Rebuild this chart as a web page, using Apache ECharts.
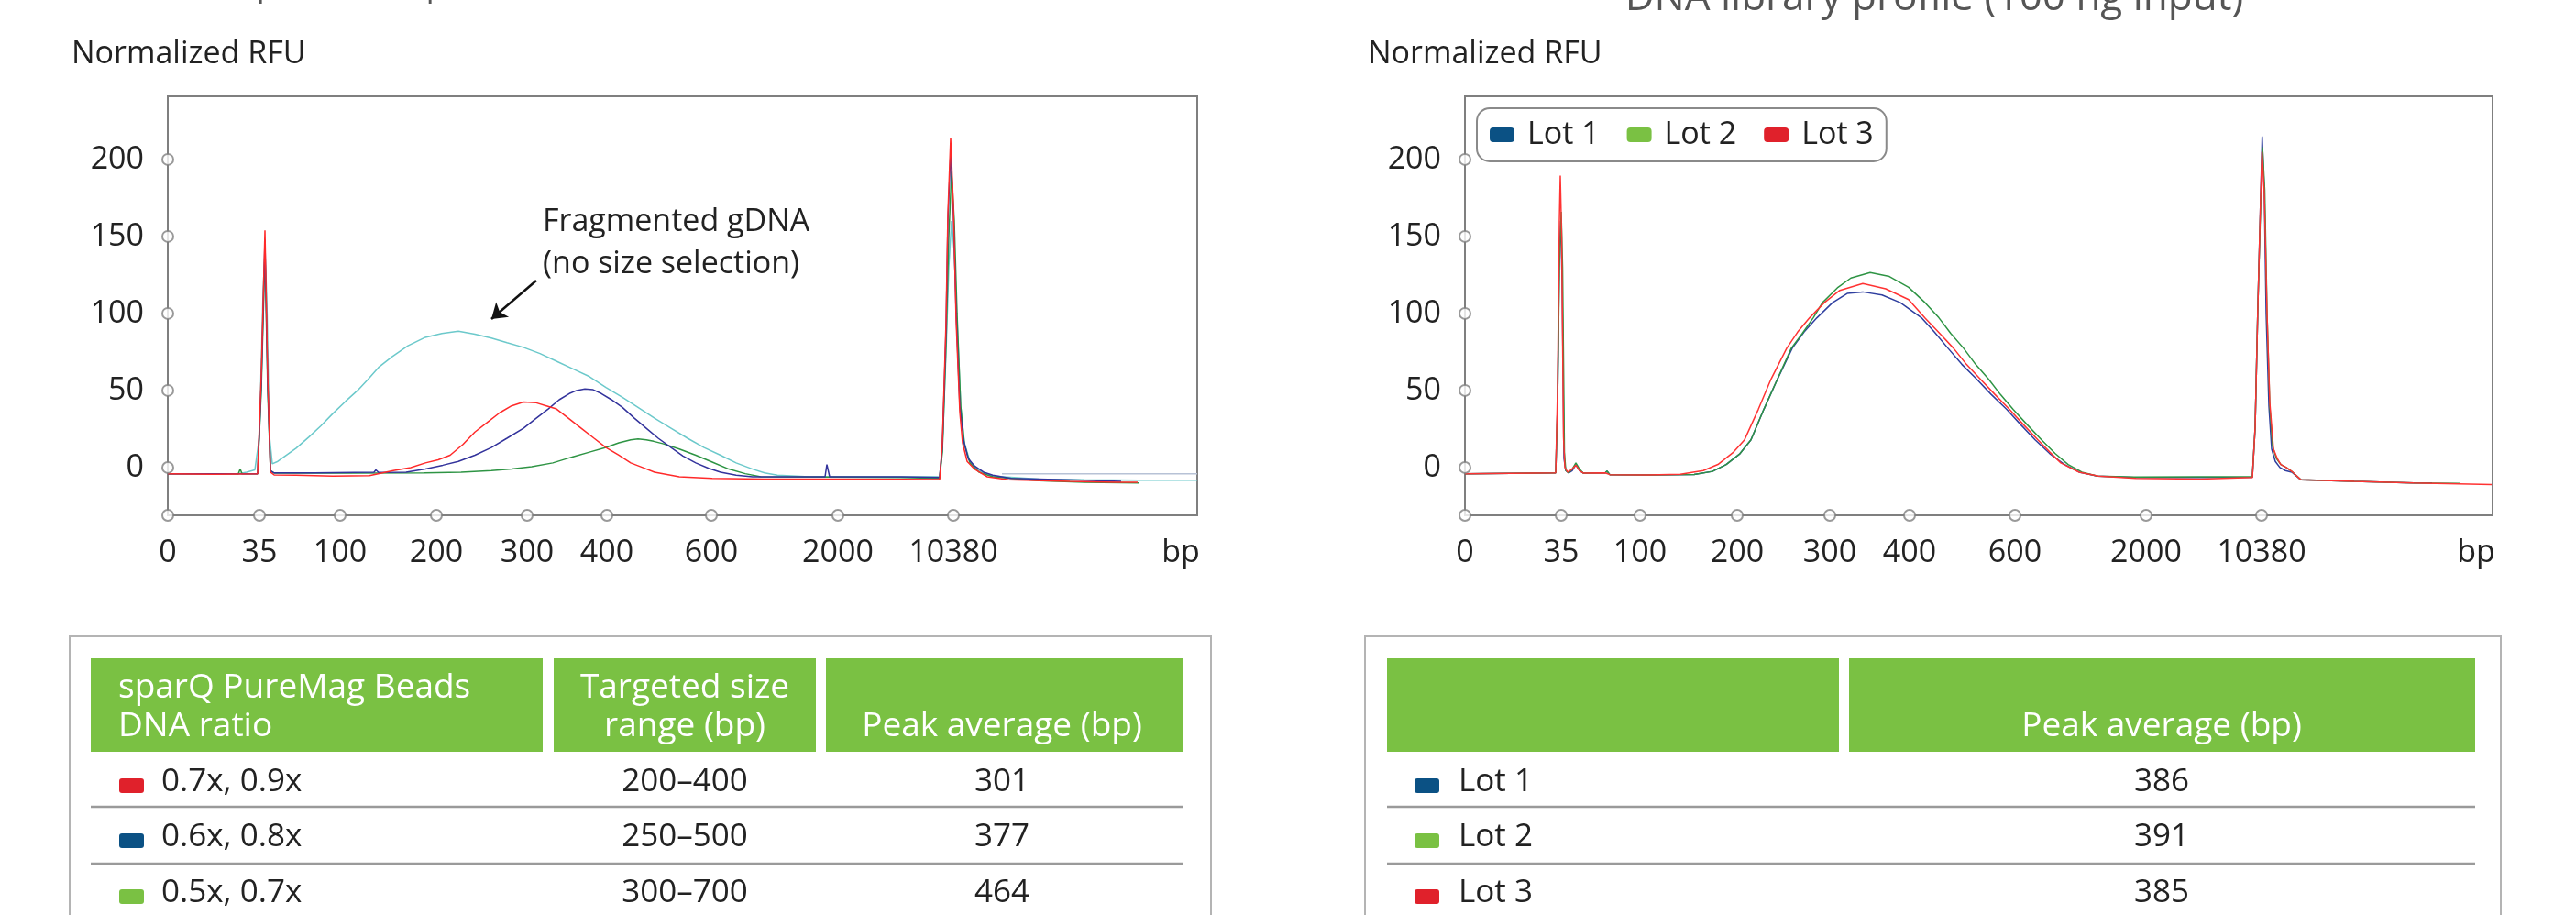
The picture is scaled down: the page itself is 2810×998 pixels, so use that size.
<!DOCTYPE html>
<html>
<head>
<meta charset="utf-8">
<title>sparQ PureMag Beads size selection profiles</title>
<script src="https://cdn.jsdelivr.net/npm/echarts@6/dist/echarts.min.js"></script>
<style>
  html, body { margin: 0; padding: 0; background: #fff; }
  #chart { width: 2810px; height: 998px; }
</style>
</head>
<body>
<div id="chart"></div>
<script>
// x = position along the run (arbitrary units), labelled with ladder sizes in bp
// y = normalized RFU
var sizeLabels = ['0', '35', '100', '200', '300', '400', '600', '2000', '10380'];
var sizeTicksLeft = [0, 10.0, 18.8, 29.3, 39.2, 47.9, 59.3, 73.1, 85.7];
var sizeTicksRight = [0, 10.5, 19.1, 29.7, 39.8, 48.5, 60.0, 74.3, 86.9];
var rfuTicks = [0, 50, 100, 150, 200];

// left panel: bead ratio traces
var gdnaTrace = [[0,-4],[7.7,-4],[8.6,-3],[9.5,-1.5],[10.0,20],[10.4,115],[10.6,140],[10.8,110],[11.1,20],[11.4,2.4],[12.0,4],[12.7,7],[14,12.5],[15.4,19.8],[16.7,27],[18,35],[19.4,43],[20.7,50],[21.8,57],[23,65],[24.5,72],[26.2,79],[28.1,84.5],[29.9,87],[31.7,88.5],[33.5,86.5],[35.3,84],[37,81],[38.8,78],[40.6,74],[42.4,69],[44.2,64],[46,59],[47.8,52],[49.6,45.5],[51.3,39],[53.1,32],[54.9,25.5],[56.7,19],[58.5,13],[60.3,8],[62,3],[63.8,-1],[65.1,-3.5],[66.5,-5],[70,-6],[80,-6],[84.2,-6],[84.5,12],[84.9,75],[85.2,130],[85.5,160],[85.8,140],[86.1,95],[86.5,40],[86.9,16],[87.5,4],[88.5,-2],[90,-5.5],[95,-7.5],[100,-8],[106,-8.3],[112.3,-8.3]];
var ratio05Trace = [[0,-4],[7.7,-4],[7.9,-1],[8.1,-4],[9.8,-4],[10.2,50],[10.6,140],[10.9,50],[11.2,-2],[11.6,-3.6],[20,-3.6],[28,-3.4],[32,-3],[35.3,-2],[37.5,-1],[39.7,0.5],[42,3],[44.2,7],[46,10],[47.8,13],[49.2,16],[50.5,18],[51.3,18.5],[52.2,18],[53,17],[54,15.5],[55.8,12],[57.6,8],[59.4,3.5],[61.2,-1],[63,-4],[64.7,-6],[72,-6.2],[80,-6.5],[84.2,-7],[84.5,10],[84.9,80],[85.2,150],[85.5,192],[85.8,160],[86.1,100],[86.5,40],[86.9,15],[87.5,3],[88.5,-3],[90,-6],[95,-8.5],[100,-9.5],[106,-10]];
var ratio06Trace = [[0,-4],[9.8,-4],[10.2,55],[10.6,148],[10.9,55],[11.2,-2],[11.6,-3.5],[16,-3.5],[22.5,-3],[22.7,-1.5],[23,-3.2],[26,-3],[28.1,-1],[30,1.5],[31.7,4],[33.5,8],[35.3,13],[37,19],[38.8,25.5],[40.2,32],[41.5,38],[42.7,44],[43.8,48],[44.6,50],[45.5,51],[46.4,50.5],[47.3,48],[48.4,44],[49.6,39],[50.9,32],[52.2,25.5],[53.5,19],[54.9,13],[56.2,7.5],[57.6,3],[59,-0.5],[60.3,-3],[62,-5],[63.8,-6],[71.7,-6],[71.9,2],[72.2,-6],[80,-6],[84.2,-6.5],[84.5,14],[84.9,90],[85.1,160],[85.4,205],[85.7,165],[86.0,100],[86.4,40],[86.8,18],[87.3,6],[88,1],[89,-3],[90,-5],[92,-7],[98,-8],[104,-9]];
var ratio07Trace = [[0,-4],[5,-4.3],[9.8,-4],[10.2,60],[10.6,154],[10.9,60],[11.2,-3],[11.6,-4.8],[14,-5],[18,-5.5],[22,-5.2],[24.6,-2],[26.5,0],[28.1,3],[29.5,5],[30.8,8],[32.2,15],[33.5,23],[34.8,29],[36.2,35.5],[37.5,40],[38.8,42.5],[40.2,42],[41.3,40],[42.4,38],[43.7,32],[45.1,25.5],[46.5,19],[47.8,13],[49.2,8],[50.5,3],[51.8,0],[53.1,-3],[55.8,-6],[59.4,-7],[65,-7.5],[72,-7.5],[80,-7.6],[84.2,-7.8],[84.5,16],[84.9,95],[85.1,165],[85.4,214],[85.7,170],[86.0,95],[86.4,36],[86.7,16],[87.2,4],[88,-1],[89.4,-6],[91.7,-8],[98.4,-9],[103.4,-9.5],[105.8,-9.5]];
var flatTrace = [[91,-4],[112.3,-4]];

// right panel: three lots
var lot1Trace = [[0,-4],[9.9,-3.5],[10.1,40],[10.3,140],[10.45,160],[10.6,120],[10.8,6],[11.0,-2],[11.3,-3.5],[11.7,-2],[12.1,2],[12.5,-2],[12.9,-3.6],[15.3,-3.5],[15.5,-2.3],[15.8,-4.6],[20,-4.8],[25,-4.5],[27,-2.5],[28.5,2],[30,9],[31.2,18],[32.6,37.7],[34.1,57.5],[35.7,77.4],[37,88],[38.4,97.2],[40.1,107],[41.7,113],[43.4,114],[45.5,112],[47.5,107],[49.8,97.2],[51.2,88],[52.7,77.4],[54.2,67],[55.8,57.5],[57.4,47.5],[59.1,37.7],[60.6,28],[62.2,18],[63.8,9],[65.4,2],[67,-3],[69,-5.6],[73,-6.5],[80,-6.5],[85.9,-6.3],[86.2,26],[86.5,105],[86.8,175],[86.97,215],[87.2,178],[87.4,100],[87.7,40],[88.0,12],[88.4,4],[88.9,0],[89.5,-2],[90.2,-3],[91.2,-8],[97,-9],[103.5,-10],[105.5,-10]];
var lot2Trace = [[0,-4],[9.9,-3.5],[10.1,40],[10.3,130],[10.5,166],[10.65,130],[10.85,10],[11.0,-2],[11.3,-3.5],[11.7,-1],[12.1,3],[12.5,-1],[12.9,-3.6],[15.3,-3.5],[15.5,-2.3],[15.8,-4.6],[20,-4.8],[25,-4.5],[27,-2.5],[28.5,2],[30,9],[31.2,18],[32.6,37.7],[34.1,57.5],[35.6,77.4],[36.8,87],[38,97.2],[39,107],[40.7,117],[42.1,123],[44.2,126.6],[46.3,124],[48.4,117],[50.2,107],[51.7,97.2],[53,87],[54.4,77.4],[55.7,67],[57.1,57.5],[58.4,47.5],[59.8,37.7],[61.3,28],[62.9,18],[64.4,9],[65.8,2],[67.3,-3],[69,-5.5],[73,-6.2],[80,-6],[85.9,-6],[86.2,26],[86.5,105],[86.8,170],[87.0,208],[87.25,180],[87.5,100],[87.8,40],[88.1,14],[88.5,6],[89,2],[89.6,0],[90.3,-3],[91.2,-8],[97,-9],[103.5,-10],[108.5,-10.3]];
var lot3Trace = [[0,-4],[9.9,-3.5],[10.1,50],[10.3,160],[10.4,189.5],[10.55,150],[10.75,20],[10.9,0],[11.2,-3],[11.6,-1.5],[12.1,1.5],[12.5,-2],[12.9,-3.6],[15.3,-3.5],[15.5,-2.5],[15.8,-4.6],[20,-4.8],[23.5,-4.4],[26,-2],[27.6,2],[29.3,10],[30.5,18],[32,37.7],[33.4,57.5],[35.1,77.4],[36.3,88],[37.6,97.2],[39.2,107],[40.9,115],[43.4,119.4],[45.9,116],[48.4,109],[50.2,97],[51.8,87],[53.3,77.4],[54.7,67],[56.2,57.5],[57.8,47.5],[59.4,37.7],[60.9,28],[62.5,18],[63.8,10],[65,3],[67,-3],[69.1,-5.6],[73.2,-7],[80.2,-7.5],[85.9,-6.5],[86.2,26],[86.5,105],[86.8,175],[86.95,205],[87.2,178],[87.5,100],[87.8,42],[88.2,12],[88.6,6],[89,2],[89.6,0],[90.3,-3],[91.2,-8],[97,-9],[103.5,-10],[112,-11]];

// tables
var ratioRows = ['0.7x, 0.9x', '0.6x, 0.8x', '0.5x, 0.7x'];
var ratioColors = ['#E0212B', '#0B5184', '#7AC143'];
var targetRanges = ['200–400', '250–500', '300–700'];
var ratioPeaks = ['301', '377', '464'];
var lotNames = ['Lot 1', 'Lot 2', 'Lot 3'];
var lotColors = ['#0B5184', '#7AC143', '#E0212B'];
var lotPeaks = ['386', '391', '385'];

var FONT = "'Open Sans', 'Noto Sans', sans-serif";
var yMin = -31, yMax = 241;
var green = '#7AC143';

function xAxisFor(idx, ticks, maxV, bpPos) {
  return {
    type: 'value', gridIndex: idx, min: 0, max: maxV,
    axisLine: { show: true, onZero: false, lineStyle: { color: '#7f7f7f', width: 2 } },
    axisTick: { show: false },
    splitLine: { show: false },
    axisLabel: {
      customValues: ticks.concat([bpPos]),
      margin: 24, color: '#222', fontSize: 34, fontFamily: FONT,
      formatter: function (v) {
        if (Math.abs(v - bpPos) < 0.01) return 'bp';
        for (var i = 0; i < ticks.length; i++) {
          if (Math.abs(v - ticks[i]) < 0.01) return sizeLabels[i];
        }
        return '';
      }
    }
  };
}
function yAxisFor(idx) {
  return {
    type: 'value', gridIndex: idx, min: yMin, max: yMax,
    axisLine: { show: true, lineStyle: { color: '#7f7f7f', width: 2 } },
    axisTick: { show: false },
    splitLine: { show: false },
    axisLabel: { customValues: rfuTicks, margin: 26, color: '#222', fontSize: 34, fontFamily: FONT }
  };
}
function trace(name, idx, data, color, z) {
  return {
    name: name, type: 'line', xAxisIndex: idx, yAxisIndex: idx, data: data,
    showSymbol: false, symbol: 'none', z: z || 2,
    lineStyle: { color: color, width: 1.5 }, itemStyle: { color: color }
  };
}
function tickDots(idx, ticks) {
  var pts = ticks.map(function (t) { return [t, yMin]; });
  rfuTicks.forEach(function (t) { pts.push([0, t]); });
  return {
    type: 'scatter', xAxisIndex: idx, yAxisIndex: idx, data: pts, silent: true,
    symbol: 'circle', symbolSize: 12, clip: false, z: 6,
    itemStyle: { color: '#fff', borderColor: '#7f7f7f', borderWidth: 2 }
  };
}

// graphic helpers for headings and tables
function txt(x, y, s, o) {
  o = o || {};
  return {
    type: 'text', x: x, y: y, silent: true,
    style: {
      text: s, fill: o.fill || '#222', font: (o.size || 34) + 'px ' + FONT,
      align: o.align || 'left', verticalAlign: 'middle'
    }
  };
}
function box(x, y, w, h, fill, stroke, r) {
  return {
    type: 'rect', silent: true,
    shape: { x: x, y: y, width: w, height: h, r: r || 0 },
    style: { fill: fill || 'none', stroke: stroke || 'none', lineWidth: 2 }
  };
}
function hline(x1, x2, y) {
  return { type: 'line', silent: true, shape: { x1: x1, y1: y, x2: x2, y2: y }, style: { stroke: '#9a9a9a', lineWidth: 2.5 } };
}

var rowY = [853, 913, 974];
var HEAD = { fill: '#fff', size: 37 };
var g = [];
g.push(txt(52, -14, 'Size selection profile comparison', { size: 35, fill: '#555' }));
g.push(txt(2110, -2, 'DNA library profile (100 ng input)', { size: 44, fill: '#555', align: 'center' }));
g.push(txt(78, 59, 'Normalized RFU'));
g.push(txt(1492, 59, 'Normalized RFU'));
g.push(txt(592, 242, 'Fragmented gDNA'));
g.push(txt(592, 288, '(no size selection)'));

// left table
g.push(box(76, 694, 1245, 400, 'none', '#b4b4b4'));
g.push(box(99, 718, 493, 102, green));
g.push(box(604, 718, 286, 102, green));
g.push(box(901, 718, 390, 102, green));
g.push(txt(129, 750, 'sparQ PureMag Beads', HEAD));
g.push(txt(129, 792, 'DNA ratio', HEAD));
g.push(txt(747, 750, 'Targeted size', { fill: '#fff', size: 37, align: 'center' }));
g.push(txt(747, 792, 'range (bp)', { fill: '#fff', size: 37, align: 'center' }));
g.push(txt(1093, 792, 'Peak average (bp)', { fill: '#fff', size: 37, align: 'center' }));
for (var i = 0; i < ratioRows.length; i++) {
  g.push(box(130, rowY[i] - 4, 27, 16, ratioColors[i], 'none', 3));
  g.push(txt(176, rowY[i], ratioRows[i], { size: 35 }));
  g.push(txt(747, rowY[i], targetRanges[i], { size: 35, align: 'center' }));
  g.push(txt(1093, rowY[i], ratioPeaks[i], { size: 35, align: 'center' }));
}
g.push(hline(99, 1291, 880));
g.push(hline(99, 1291, 942));

// right table
g.push(box(1489, 694, 1239, 400, 'none', '#b4b4b4'));
g.push(box(1513, 718, 493, 102, green));
g.push(box(2017, 718, 683, 102, green));
g.push(txt(2358, 792, 'Peak average (bp)', { fill: '#fff', size: 37, align: 'center' }));
for (var j = 0; j < lotNames.length; j++) {
  g.push(box(1543, rowY[j] - 4, 27, 16, lotColors[j], 'none', 3));
  g.push(txt(1591, rowY[j], lotNames[j], { size: 35 }));
  g.push(txt(2358, rowY[j], lotPeaks[j], { size: 35, align: 'center' }));
}
g.push(hline(1513, 2700, 880));
g.push(hline(1513, 2700, 942));

var chart = echarts.init(document.getElementById('chart'), null, { renderer: 'canvas' });
var gdnaSeries = trace('Fragmented gDNA', 0, gdnaTrace, '#6cc9cb', 2);
gdnaSeries.markLine = {
  silent: true, symbol: ['none', 'arrow'], symbolSize: 16,
  label: { show: false },
  lineStyle: { color: '#111', width: 2.5, type: 'solid' },
  data: [[{ coord: [40.2, 121.4] }, { coord: [35.3, 96.4] }]]
};

chart.setOption({
  animation: false,
  backgroundColor: '#fff',
  grid: [
    { left: 183, top: 105, width: 1123, height: 457, show: true, borderColor: '#7f7f7f', borderWidth: 2, backgroundColor: 'transparent' },
    { left: 1598, top: 105, width: 1121, height: 457, show: true, borderColor: '#7f7f7f', borderWidth: 2, backgroundColor: 'transparent' }
  ],
  xAxis: [xAxisFor(0, sizeTicksLeft, 112.3, 110.5), xAxisFor(1, sizeTicksRight, 112.1, 110.3)],
  yAxis: [yAxisFor(0), yAxisFor(1)],
  legend: {
    left: 1611, top: 118, orient: 'horizontal',
    padding: [12, 14, 12, 14], itemGap: 30, itemWidth: 27, itemHeight: 16,
    borderColor: '#8a8a8a', borderWidth: 2, borderRadius: 14,
    icon: 'roundRect', selectedMode: false,
    textStyle: { fontSize: 34, color: '#222', fontFamily: FONT, padding: [0, 0, 0, 9] },
    data: lotNames.map(function (n, k) { return { name: n, icon: 'roundRect', itemStyle: { color: lotColors[k] } }; })
  },
  series: [
    gdnaSeries,
    trace('Reference', 0, flatTrace, '#b7c2d6', 1),
    trace('0.5x, 0.7x', 0, ratio05Trace, '#2e9444', 3),
    trace('0.6x, 0.8x', 0, ratio06Trace, '#33339c', 3),
    trace('0.7x, 0.9x', 0, ratio07Trace, '#ff2a2a', 4),
    tickDots(0, sizeTicksLeft),
    trace('Lot 1', 1, lot1Trace, '#2f3f9f', 2),
    trace('Lot 2', 1, lot2Trace, '#2e9444', 3),
    trace('Lot 3', 1, lot3Trace, '#ff3333', 4),
    tickDots(1, sizeTicksRight)
  ],
  graphic: g
});
</script>
</body>
</html>
